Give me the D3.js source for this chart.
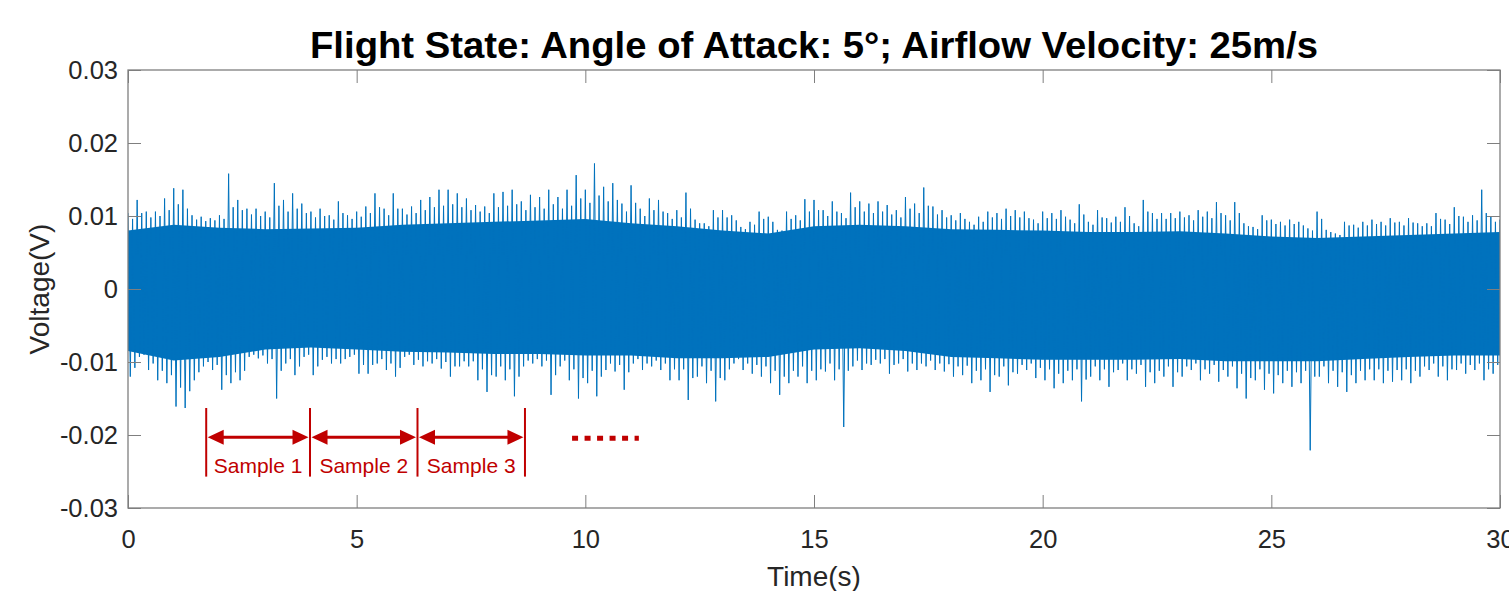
<!DOCTYPE html>
<html>
<head>
<meta charset="utf-8">
<script src="https://cdn.jsdelivr.net/npm/d3@7"></script>
<style>
  html, body { margin: 0; padding: 0; background: #fff; }
  svg { display: block; font-family: "Liberation Sans", Arial, Helvetica, sans-serif; }
</style>
</head>
<body>
<svg id="chart"></svg>
<script>
// signal envelope, per 0.2 s bin: highest / lowest swing
const binStep = 0.2;
const peakHi = [
  0.0104, 0.0122, 0.0106, 0.0106, 0.0124, 0.0138, 0.0136, 0.0101, 0.0099, 0.0097,
  0.0101, 0.0158, 0.0122, 0.0110, 0.0110, 0.0106, 0.0145, 0.0122, 0.0131, 0.0117,
  0.0106, 0.0110, 0.0101, 0.0120, 0.0101, 0.0106, 0.0113, 0.0131, 0.0110, 0.0131,
  0.0110, 0.0113, 0.0122, 0.0126, 0.0136, 0.0136, 0.0131, 0.0124,
  0.0115, 0.0113, 0.0131, 0.0133, 0.0136, 0.0120, 0.0129, 0.0126, 0.0136, 0.0126,
  0.0136, 0.0156, 0.0136, 0.0172, 0.0140, 0.0145, 0.0117, 0.0142, 0.0110, 0.0124,
  0.0122, 0.0104, 0.0108, 0.0132, 0.0095, 0.0090, 0.0108, 0.0108, 0.0101, 0.0085,
  0.0092, 0.0106, 0.0099, 0.0081, 0.0106, 0.0101, 0.0123,
  0.0122, 0.0108, 0.0120, 0.0104, 0.0132, 0.0120, 0.0117, 0.0120, 0.0115, 0.0108,
  0.0126, 0.0117, 0.0139, 0.0113, 0.0108, 0.0101, 0.0104, 0.0092, 0.0099, 0.0106,
  0.0104, 0.0110, 0.0108, 0.0106, 0.0095, 0.0106, 0.0104, 0.0108, 0.0095, 0.0116,
  0.0092, 0.0108, 0.0097, 0.0099, 0.0112, 0.0090, 0.0122, 0.0104,
  0.0104, 0.0104, 0.0106, 0.0101, 0.0108, 0.0106, 0.0119, 0.0101, 0.0119, 0.0090,
  0.0085, 0.0101, 0.0095, 0.0092, 0.0095, 0.0092, 0.0083, 0.0106, 0.0081, 0.0076,
  0.0092, 0.0088, 0.0092, 0.0095, 0.0092, 0.0097, 0.0092, 0.0097, 0.0090, 0.0090,
  0.0104, 0.0095, 0.0112, 0.0099, 0.0101, 0.0136, 0.0099, 0.0095
];
const peakLo = [
  -0.0120, -0.0093, -0.0111, -0.0125, -0.0129, -0.0161, -0.0163, -0.0125, -0.0106, -0.0111,
  -0.0138, -0.0129, -0.0125, -0.0093, -0.0095, -0.0102, -0.0150, -0.0102, -0.0118, -0.0093,
  -0.0118, -0.0097, -0.0102, -0.0102, -0.0093, -0.0116, -0.0116, -0.0102, -0.0111, -0.0120,
  -0.0093, -0.0104, -0.0106, -0.0102, -0.0109, -0.0120, -0.0106, -0.0106,
  -0.0125, -0.0141, -0.0120, -0.0125, -0.0147, -0.0106, -0.0102, -0.0106, -0.0145, -0.0106,
  -0.0125, -0.0150, -0.0129, -0.0147, -0.0111, -0.0113, -0.0138, -0.0102, -0.0111, -0.0106,
  -0.0111, -0.0125, -0.0125, -0.0152, -0.0120, -0.0129, -0.0154, -0.0125, -0.0102, -0.0111,
  -0.0116, -0.0120, -0.0129, -0.0145, -0.0129, -0.0120, -0.0129,
  -0.0125, -0.0113, -0.0125, -0.0189, -0.0106, -0.0111, -0.0104, -0.0102, -0.0116, -0.0102,
  -0.0113, -0.0111, -0.0106, -0.0111, -0.0113, -0.0120, -0.0118, -0.0129, -0.0125, -0.0141,
  -0.0120, -0.0132, -0.0116, -0.0111, -0.0122, -0.0125, -0.0136, -0.0129, -0.0125, -0.0154,
  -0.0120, -0.0125, -0.0134, -0.0111, -0.0125, -0.0116, -0.0134, -0.0129,
  -0.0120, -0.0134, -0.0120, -0.0111, -0.0125, -0.0116, -0.0127, -0.0120, -0.0136, -0.0150,
  -0.0125, -0.0138, -0.0143, -0.0129, -0.0134, -0.0129, -0.0221, -0.0120, -0.0129, -0.0134,
  -0.0141, -0.0129, -0.0125, -0.0125, -0.0129, -0.0127, -0.0125, -0.0129, -0.0120, -0.0111,
  -0.0120, -0.0125, -0.0111, -0.0116, -0.0111, -0.0125, -0.0116, -0.0106
];
// second-highest / second-lowest swing in the same bins (the fuzzy fringe)
const fringeHi = [
  0.0096, 0.0104, 0.0098, 0.0100, 0.0108, 0.0116, 0.0110, 0.0095, 0.0093, 0.0094,
  0.0096, 0.0112, 0.0108, 0.0102, 0.0100, 0.0098, 0.0114, 0.0106, 0.0110, 0.0104,
  0.0098, 0.0100, 0.0095, 0.0104, 0.0096, 0.0099, 0.0104, 0.0112, 0.0101, 0.0110,
  0.0102, 0.0104, 0.0108, 0.0112, 0.0114, 0.0116, 0.0112, 0.0108,
  0.0106, 0.0104, 0.0112, 0.0114, 0.0116, 0.0108, 0.0112, 0.0110, 0.0116, 0.0110,
  0.0114, 0.0124, 0.0118, 0.0128, 0.0120, 0.0122, 0.0106, 0.0118, 0.0100, 0.0108,
  0.0106, 0.0096, 0.0098, 0.0110, 0.0090, 0.0086, 0.0098, 0.0098, 0.0094, 0.0082,
  0.0088, 0.0096, 0.0092, 0.0080, 0.0096, 0.0094, 0.0106,
  0.0108, 0.0100, 0.0106, 0.0097, 0.0112, 0.0106, 0.0104, 0.0106, 0.0102, 0.0098,
  0.0110, 0.0104, 0.0114, 0.0102, 0.0098, 0.0094, 0.0096, 0.0088, 0.0092, 0.0098,
  0.0096, 0.0100, 0.0098, 0.0097, 0.0090, 0.0097, 0.0096, 0.0099, 0.0090, 0.0102,
  0.0088, 0.0098, 0.0091, 0.0092, 0.0100, 0.0086, 0.0106, 0.0096,
  0.0096, 0.0097, 0.0098, 0.0094, 0.0099, 0.0097, 0.0104, 0.0094, 0.0104, 0.0086,
  0.0082, 0.0094, 0.0089, 0.0087, 0.0089, 0.0087, 0.0080, 0.0096, 0.0078, 0.0074,
  0.0087, 0.0084, 0.0087, 0.0089, 0.0087, 0.0091, 0.0087, 0.0091, 0.0086, 0.0086,
  0.0096, 0.0089, 0.0100, 0.0092, 0.0094, 0.0104, 0.0092, 0.0090
];
const fringeLo = [
  -0.0108, -0.0090, -0.0102, -0.0112, -0.0118, -0.0135, -0.0140, -0.0114, -0.0100, -0.0104,
  -0.0118, -0.0114, -0.0112, -0.0090, -0.0091, -0.0096, -0.0112, -0.0096, -0.0106, -0.0090,
  -0.0106, -0.0093, -0.0096, -0.0096, -0.0090, -0.0104, -0.0104, -0.0096, -0.0102, -0.0108,
  -0.0090, -0.0097, -0.0099, -0.0096, -0.0100, -0.0106, -0.0099, -0.0099,
  -0.0110, -0.0118, -0.0106, -0.0110, -0.0120, -0.0098, -0.0096, -0.0098, -0.0118, -0.0098,
  -0.0110, -0.0122, -0.0112, -0.0120, -0.0102, -0.0104, -0.0114, -0.0096, -0.0102, -0.0098,
  -0.0102, -0.0110, -0.0110, -0.0122, -0.0106, -0.0112, -0.0122, -0.0110, -0.0096, -0.0102,
  -0.0104, -0.0106, -0.0112, -0.0120, -0.0112, -0.0106, -0.0112,
  -0.0110, -0.0102, -0.0110, -0.0112, -0.0098, -0.0102, -0.0097, -0.0096, -0.0104, -0.0096,
  -0.0102, -0.0102, -0.0098, -0.0102, -0.0103, -0.0106, -0.0105, -0.0112, -0.0110, -0.0118,
  -0.0106, -0.0114, -0.0104, -0.0102, -0.0108, -0.0110, -0.0116, -0.0112, -0.0110, -0.0124,
  -0.0106, -0.0110, -0.0114, -0.0102, -0.0110, -0.0104, -0.0114, -0.0112,
  -0.0106, -0.0114, -0.0106, -0.0102, -0.0110, -0.0104, -0.0111, -0.0106, -0.0116, -0.0122,
  -0.0110, -0.0116, -0.0118, -0.0112, -0.0114, -0.0112, -0.0120, -0.0106, -0.0112, -0.0114,
  -0.0118, -0.0112, -0.0110, -0.0110, -0.0112, -0.0111, -0.0110, -0.0112, -0.0106, -0.0102,
  -0.0106, -0.0110, -0.0102, -0.0104, -0.0102, -0.0110, -0.0104, -0.0098
];

// dense (solid) part of the trace, one value per second
const coreTime = d3.range(0, 31);
const coreHi = [
  0.0080, 0.0088, 0.0084, 0.0082, 0.0083, 0.0084, 0.0088, 0.0090, 0.0092, 0.0094,
  0.0096, 0.0090, 0.0086, 0.0080, 0.0076, 0.0086, 0.0088, 0.0086, 0.0082, 0.0081,
  0.0080, 0.0078, 0.0078, 0.0079, 0.0076, 0.0072, 0.0070, 0.0072, 0.0074, 0.0076, 0.0078
];
const coreLo = [
  -0.0085, -0.0098, -0.0093, -0.0083, -0.0080, -0.0083, -0.0086, -0.0087, -0.0089, -0.0089,
  -0.0091, -0.0091, -0.0095, -0.0095, -0.0093, -0.0083, -0.0081, -0.0085, -0.0093, -0.0095,
  -0.0097, -0.0097, -0.0097, -0.0096, -0.0099, -0.0099, -0.0099, -0.0096, -0.0093, -0.0091, -0.0091
];

const xTicks = [0, 5, 10, 15, 20, 25, 30];
const yTicks = [-0.03, -0.02, -0.01, 0, 0.01, 0.02, 0.03];
const yTickLabels = ["-0.03", "-0.02", "-0.01", "0", "0.01", "0.02", "0.03"];

// sample windows marked under the trace (seconds)
const sampleEdges = [1.71, 3.98, 6.33, 8.68];
const sampleNames = ["Sample 1", "Sample 2", "Sample 3"];
const dotsSpan = [9.71, 11.17];

const titleText = "Flight State: Angle of Attack: 5\u00B0; Airflow Velocity: 25m/s";

class SignalChart {
  margin = { top: 70, right: 9, bottom: 83, left: 128 };

  constructor(svg, width = 1509, height = 591) {
    this.svg = d3.select(svg);
    this.width = width;
    this.height = height;
  }

  initialize() {
    const m = this.margin;
    this.svg.attr("width", this.width).attr("height", this.height);
    this.innerW = this.width - m.left - m.right;
    this.innerH = this.height - m.top - m.bottom;

    this.x = d3.scaleLinear().domain([0, 30]).range([m.left, m.left + this.innerW]);
    this.y = d3.scaleLinear().domain([-0.03, 0.03]).range([m.top + this.innerH, m.top]);

    this.svg.append("defs").append("clipPath").attr("id", "plotClip")
      .append("rect")
      .attr("x", m.left).attr("y", m.top)
      .attr("width", this.innerW).attr("height", this.innerH);

    this.plot = this.svg.append("g").attr("clip-path", "url(#plotClip)");
    this.axes = this.svg.append("g");
    this.notes = this.svg.append("g");
  }

  drawSignal() {
    const x = this.x, y = this.y;
    const blue = "#0072BD";

    const core = coreTime.map((t, i) => ({ t, hi: coreHi[i], lo: coreLo[i] }));
    this.plot.append("path")
      .datum(core)
      .attr("fill", blue)
      .attr("d", d3.area().x((d) => x(d.t)).y0((d) => y(d.lo)).y1((d) => y(d.hi)));

    // trace swings max -> min -> second max -> second min inside each bin
    const q = binStep / 4;
    const pts = [];
    peakHi.forEach((v, i) => {
      const t = i * binStep;
      pts.push([t, v]);
      pts.push([t + q, peakLo[i]]);
      pts.push([t + 2 * q, fringeHi[i]]);
      pts.push([t + 3 * q, fringeLo[i]]);
    });
    this.plot.append("path")
      .datum(pts)
      .attr("fill", "none")
      .attr("stroke", blue)
      .attr("stroke-width", 1)
      .attr("d", d3.line().x((d) => x(d[0])).y((d) => y(d[1])));
  }

  drawAxes() {
    const x = this.x, y = this.y, m = this.margin;
    const axisColor = "#7f7f7f";
    const tickLen = 13;
    const bottom = m.top + this.innerH, right = m.left + this.innerW;

    const style = (g) => {
      g.select(".domain").remove();
      g.selectAll(".tick line").attr("stroke", axisColor);
      g.selectAll(".tick text")
        .attr("fill", "#262626")
        .style("font-size", "25.5px");
    };

    this.axes.append("g")
      .attr("transform", `translate(0,${bottom})`)
      .call(d3.axisBottom(x).tickValues(xTicks).tickSize(-tickLen).tickPadding(22).tickFormat(d3.format("d")))
      .call(style);
    this.axes.append("g")
      .attr("transform", `translate(0,${m.top})`)
      .call(d3.axisTop(x).tickValues(xTicks).tickSize(-tickLen).tickFormat(""))
      .call(style);
    this.axes.append("g")
      .attr("transform", `translate(${m.left},0)`)
      .call(d3.axisLeft(y).tickValues(yTicks).tickSize(-tickLen).tickPadding(10)
        .tickFormat((d, i) => yTickLabels[i]))
      .call(style);
    this.axes.append("g")
      .attr("transform", `translate(${right},0)`)
      .call(d3.axisRight(y).tickValues(yTicks).tickSize(-tickLen).tickFormat(""))
      .call(style);

    this.axes.append("rect")
      .attr("x", m.left).attr("y", m.top)
      .attr("width", this.innerW).attr("height", this.innerH)
      .attr("fill", "none")
      .attr("stroke", axisColor)
      .attr("stroke-width", 1.3);

    this.svg.append("text")
      .attr("x", (m.left + right) / 2).attr("y", 58)
      .attr("text-anchor", "middle")
      .attr("textLength", 1008)
      .attr("lengthAdjust", "spacingAndGlyphs")
      .style("font-size", "36px").style("font-weight", "bold")
      .attr("fill", "#000")
      .text(titleText);

    this.svg.append("text")
      .attr("x", (m.left + right) / 2).attr("y", 586)
      .attr("text-anchor", "middle")
      .style("font-size", "28px")
      .attr("fill", "#262626")
      .text("Time(s)");

    this.svg.append("text")
      .attr("transform", `translate(49,${(m.top + bottom) / 2}) rotate(-90)`)
      .attr("text-anchor", "middle")
      .style("font-size", "28px")
      .attr("fill", "#262626")
      .text("Voltage(V)");
  }

  drawSamples() {
    const x = this.x, y = this.y;
    const red = "#C00000";
    const top = y(-0.0163), bot = y(-0.0257), ay = y(-0.0203);
    const headL = 16, headW = 7.5;

    this.notes.selectAll("line.edge")
      .data(sampleEdges).join("line")
      .attr("class", "edge")
      .attr("x1", (d) => x(d)).attr("x2", (d) => x(d))
      .attr("y1", top).attr("y2", bot)
      .attr("stroke", red).attr("stroke-width", 2);

    const spans = sampleNames.map((name, i) => ({ name, a: sampleEdges[i], b: sampleEdges[i + 1] }));
    const g = this.notes.selectAll("g.span").data(spans).join("g").attr("class", "span");

    g.append("line")
      .attr("x1", (d) => x(d.a) + headL).attr("x2", (d) => x(d.b) - headL)
      .attr("y1", ay).attr("y2", ay)
      .attr("stroke", red).attr("stroke-width", 3);
    g.append("path")
      .attr("fill", red)
      .attr("d", (d) => {
        const a = x(d.a) + 1.5, b = x(d.b) - 1.5;
        return `M${a},${ay}L${a + headL},${ay - headW}L${a + headL},${ay + headW}Z` +
               `M${b},${ay}L${b - headL},${ay - headW}L${b - headL},${ay + headW}Z`;
      });
    g.append("text")
      .attr("x", (d) => (x(d.a) + x(d.b)) / 2)
      .attr("y", 473)
      .attr("text-anchor", "middle")
      .style("font-size", "21px")
      .attr("fill", red)
      .text((d) => d.name);

    this.notes.append("line")
      .attr("x1", x(dotsSpan[0])).attr("x2", x(dotsSpan[1]))
      .attr("y1", ay + 1).attr("y2", ay + 1)
      .attr("stroke", red).attr("stroke-width", 5)
      .attr("stroke-dasharray", "6,6.5");
  }
}

const chart = new SignalChart(document.getElementById("chart"));
chart.initialize();
chart.drawSignal();
chart.drawAxes();
chart.drawSamples();
</script>
</body>
</html>
